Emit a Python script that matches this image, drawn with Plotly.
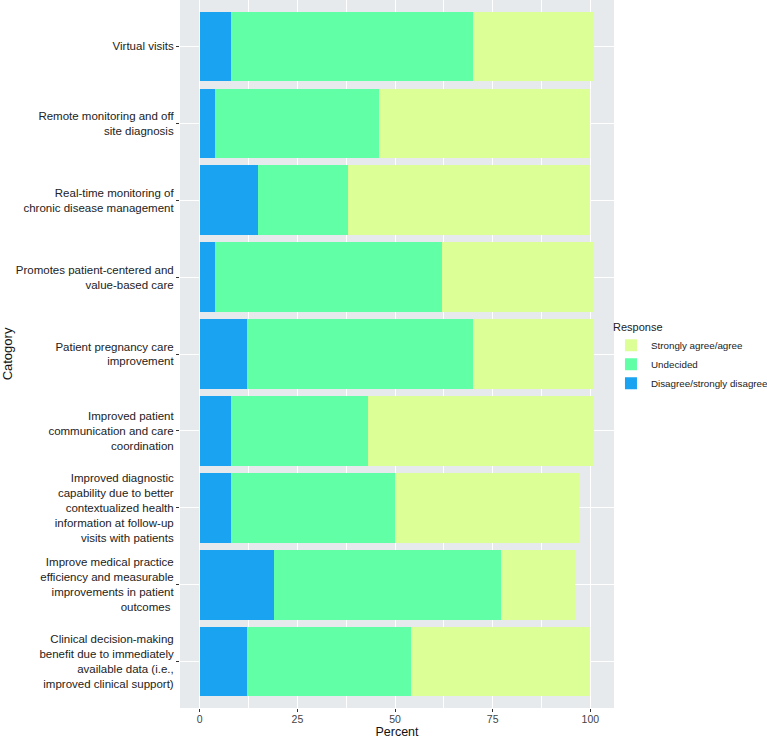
import plotly.graph_objects as go

categories = [
    "Virtual visits",
    "Remote monitoring and off<br>site diagnosis",
    "Real-time monitoring of<br>chronic disease management",
    "Promotes patient-centered and<br>value-based care",
    "Patient pregnancy care<br>improvement",
    "Improved patient<br>communication and care<br>coordination",
    "Improved diagnostic<br>capability due to better<br>contextualized health<br>information at follow-up<br>visits with patients",
    "Improve medical practice<br>efficiency and measurable<br>improvements in patient<br>outcomes ",
    "Clinical decision-making<br>benefit due to immediately<br>available data (i.e.,<br>improved clinical support)",
]
disagree = [8, 4, 15, 4, 12, 8, 8, 19, 12]
undecided = [62, 42, 23, 58, 58, 35, 42, 58, 42]
agree = [31, 54, 62, 39, 31, 58, 47, 19, 46]
x_ticks = [0, 25, 50, 75, 100]

series = [
    ("Disagree/strongly disagree", disagree, "#1AA3F1"),
    ("Undecided", undecided, "#61FFA6"),
    ("Strongly agree/agree", agree, "#DCFF96"),
]

fig = go.Figure()
for name, vals, col in series:
    fig.add_trace(go.Bar(
        y=categories, x=vals, name=name, orientation="h",
        marker=dict(color=col, line=dict(width=0)),
    ))

font_family = "Liberation Sans, Arial, sans-serif"
fig.update_layout(
    barmode="stack",
    bargap=0.1,
    width=767, height=739,
    margin=dict(l=180, r=153, t=0, b=31, autoexpand=False),
    paper_bgcolor="white",
    plot_bgcolor="#E6EAEC",
    font=dict(family=font_family, color="#222222"),
    legend=dict(
        title=dict(text="Response", font=dict(size=11, color="#222222")),
        traceorder="reversed",
        x=0.993, xanchor="left", y=0.495, yanchor="middle",
        font=dict(size=9.8, color="#222222"),
        bgcolor="rgba(0,0,0,0)",
        tracegroupgap=0,
    ),
    showlegend=True,
)
fig.update_xaxes(
    range=[-5.05, 106.05],
    tickmode="array", tickvals=x_ticks, ticktext=[str(v) for v in x_ticks],
    ticks="outside", ticklen=3, tickcolor="#333333", tickwidth=1,
    tickfont=dict(size=10.5, color="#444444"), ticklabelstandoff=-2,
    showgrid=True, gridcolor="white", gridwidth=1.1,
    minor=dict(tickmode="array", tickvals=[12.5, 37.5, 62.5, 87.5],
               showgrid=True, gridcolor="white", gridwidth=0.5, ticks=""),
    zeroline=False, showline=False, automargin=False,
    title=dict(text="Percent", font=dict(size=12.5, color="#111111"), standoff=7),
    fixedrange=True,
)
fig.update_yaxes(
    type="category",
    categoryorder="array", categoryarray=categories[::-1],
    range=[-0.6, 8.6],
    ticks="outside", ticklen=3, tickcolor="#333333", tickwidth=1,
    tickfont=dict(size=11.5, color="#222222"),
    showgrid=True, gridcolor="white", gridwidth=1.1,
    zeroline=False, showline=False, automargin=False,
    title=dict(text="Catogory", font=dict(size=13, color="#111111"), standoff=0),
    fixedrange=True,
)

fig.write_html("out.html", config={"displayModeBar": False},
               post_script="document.body.style.margin='0';")
